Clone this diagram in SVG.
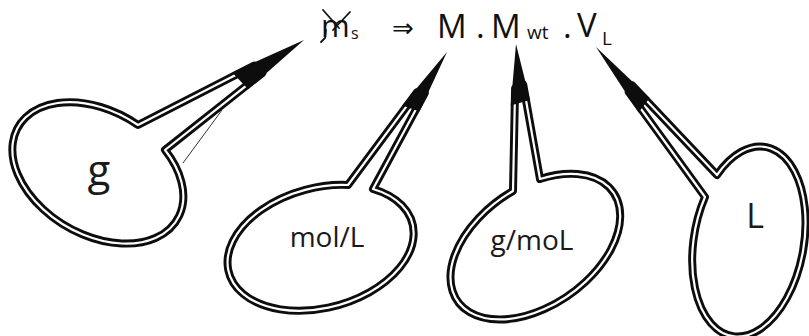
<svg xmlns="http://www.w3.org/2000/svg" xmlns:xlink="http://www.w3.org/1999/xlink" width="809" height="336" viewBox="0 0 809 336">
<style>
  .eq{font-family:"Open Sans","Liberation Sans",sans-serif;fill:#111}
  .big{font-size:33px}
  .sub{font-size:18px}
  .arrow{font-family:"DejaVu Sans",sans-serif;font-size:26px;fill:#111}
  .outer{fill:#fff;stroke:#0d0d0d;stroke-width:8;stroke-linejoin:round}
  .inner{fill:none;stroke:#fff;stroke-width:2.2;stroke-linejoin:round}
  .lbl{font-family:"Open Sans","Liberation Sans",sans-serif;fill:#1a1a1a;text-anchor:middle}
  .spike{fill:#0d0d0d}
  .scribble{fill:none;stroke:#111;stroke-width:1.8;stroke-linecap:round}
</style>
<defs>
  <path id="b1" d="M138,125 L254.2,65.5 L262.3,73 L165,150 A92,62 30 1 1 138,125 Z"/>
  <path id="b2" d="M348,185 L417.3,91.9 L424.8,93.1 L373,189 A95,60 -15 1 1 348,185 Z"/>
  <path id="b3" d="M513,191 L515.1,88.1 L523.2,84.5 L540,179 A95,59 -35 1 1 513,191 Z"/>
  <path id="b4" d="M717,175 L632.3,85.4 L628.7,92 L705,197 A55,96 10 1 0 717,175 Z"/>
</defs>
<rect width="809" height="336" fill="#fff"/>

<g id="formula">
  <text class="eq big" x="321" y="37" style="font-size:31px">m</text>
  <path class="scribble" d="M323,10 L339,28 M350,12 L333,30 M326,30 L325,38 L321,42"/>
  <text class="eq sub" x="351" y="39" style="font-size:16px">s</text>
  <text class="arrow" x="392" y="37">⇒</text>
  <text class="eq big" x="437" y="38">M</text>
  <text class="eq big" x="476" y="38">.</text>
  <text class="eq big" x="491" y="38">M</text>
  <text class="eq sub" x="527" y="39" style="font-size:19px">wt</text>
  <text class="eq big" x="563" y="38">.</text>
  <text class="eq big" x="577" y="37">V</text>
  <text class="eq sub" x="602" y="45" style="font-size:19px">L</text>
</g>

<g id="bubble-g">
  <use xlink:href="#b1" class="outer"/>
  <use xlink:href="#b1" class="inner"/>
  <line x1="183" y1="163" x2="222" y2="110" stroke="#333" stroke-width="1"/>
  <text class="lbl" x="99" y="185" style="font-size:42px">g</text>
</g>

<g id="bubble-molL">
  <use xlink:href="#b2" class="outer"/>
  <use xlink:href="#b2" class="inner"/>
  <text class="lbl" x="327" y="247" style="font-size:28px">mol/L</text>
</g>

<g id="bubble-gmoL">
  <use xlink:href="#b3" class="outer"/>
  <use xlink:href="#b3" class="inner"/>
  <text class="lbl" x="532" y="250" style="font-size:28px">g/moL</text>
</g>

<g id="bubble-L">
  <use xlink:href="#b4" class="outer"/>
  <use xlink:href="#b4" class="inner"/>
  <text class="lbl" x="755" y="228" style="font-size:34px">L</text>
</g>

<g id="connectors">
  <polygon class="spike" points="304,40 232.2,72.4 248.2,89.2"/>
  <polygon class="spike" points="447,52 402.2,105.6 419.4,111.4"/>
  <polygon class="spike" points="516,44 510.7,105.6 530,100"/>
  <polygon class="spike" points="596,47 649.7,98 638.6,112.4"/>
</g>
</svg>
